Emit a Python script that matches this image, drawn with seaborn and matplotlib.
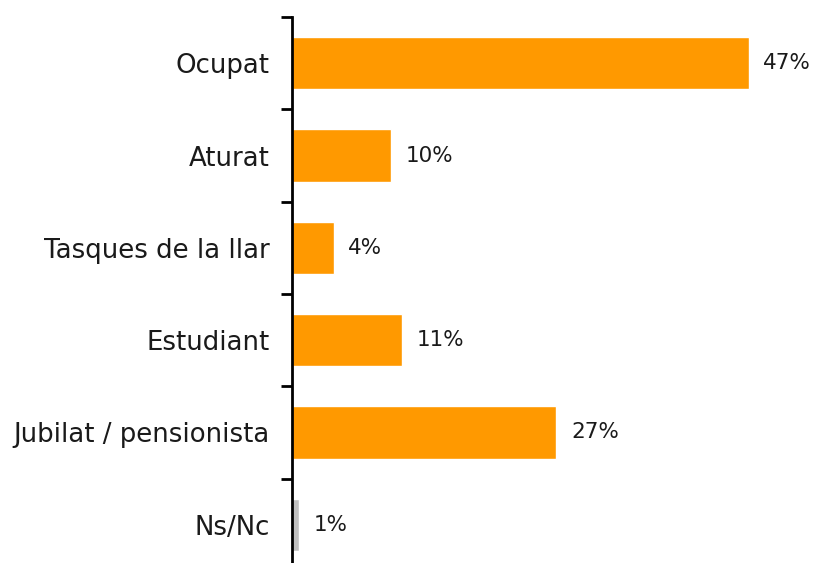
import pandas as pd
import seaborn as sns
import matplotlib.pyplot as plt

categories = ["Ocupat", "Aturat", "Tasques de la llar", "Estudiant",
              "Jubilat / pensionista", "Ns/Nc"]
values = [47.0, 10.2, 4.3, 11.3, 27.2, 0.7]
value_labels = ["47%", "10%", "4%", "11%", "27%", "1%"]
bar_colors = ["#FF9900"] * 5 + ["#C0C0C0"]

df = pd.DataFrame({"category": categories, "value": values})

sns.set_style("white")
plt.rcParams['font.family'] = ['DejaVu Sans']

fig = plt.figure(figsize=(8.13, 5.63), dpi=100)
# axes placed in pixel terms: left spine at x=292, top at y=17, bottom just below figure
ax = fig.add_axes([292 / 813, -8 / 563, 515 / 813, 554 / 563])

sns.barplot(data=df, x="value", y="category", hue="category", palette=bar_colors,
            legend=False, width=0.57, saturation=1, ax=ax)

ax.set_xlim(0, 53)
ax.set_ylim(len(categories) - 0.5, -0.5)

for i, (v, lab) in enumerate(zip(values, value_labels)):
    ax.text(v + 1.5, i, lab, va="center", ha="left", fontsize=15.5, color="#1a1a1a")

for side in ["top", "right", "bottom"]:
    ax.spines[side].set_visible(False)
ax.spines["left"].set_color("black")
ax.spines["left"].set_linewidth(2)

ax.set_xticks([])
ax.set_yticks([i - 0.5 for i in range(len(categories) + 1)], minor=False)
ax.set_yticklabels([])
ax.tick_params(axis="y", which="major", length=8, width=2, color="black", left=True)
ax.set_yticks(range(len(categories)), minor=True)
ax.set_yticklabels(categories, minor=True, fontsize=18.7, color="#1a1a1a")
ax.tick_params(axis="y", which="minor", length=0, pad=16)
ax.set_xlabel("")
ax.set_ylabel("")

fig.savefig("out.png", dpi=100)
